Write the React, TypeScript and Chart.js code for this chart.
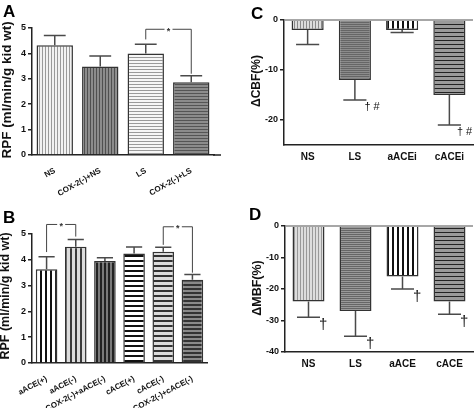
import React, { useEffect, useRef } from "react";
import { Chart, registerables } from "chart.js";
Chart.register(...registerables);

const FONT = "'Liberation Sans', Arial, Helvetica, sans-serif";
Chart.defaults.font.family = FONT;
Chart.defaults.color = "#111";

// ---- Panel A ----
const catsA = ["NS", "COX-2(-)+NS", "LS", "COX-2(-)+LS"];
const valsA = [4.32, 3.48, 4.0, 2.86];
const errA = [0.38, 0.42, 0.36, 0.26];
const ticksA = [0, 1, 2, 3, 4, 5];

// ---- Panel B ----
const catsB = ["aACE(+)", "aACE(-)", "COX-2(-)+aACE(-)", "cACE(+)", "cACE(-)", "COX-2(-)+cACE(-)"];
const valsB = [3.63, 4.51, 3.95, 4.24, 4.31, 3.23];
const errB = [0.49, 0.28, 0.13, 0.26, 0.18, 0.2];
const ticksB = [0, 1, 2, 3, 4, 5];

// ---- Panel C ----
const catsC = ["NS", "LS", "aACEi", "cACEi"];
const valsC = [-2, -12, -2, -15];
const errC = [2.9, 4, 0.5, 6];
const ticksC = [0, -10, -20];

// ---- Panel D ----
const catsD = ["NS", "LS", "aACE", "cACE"];
const valsD = [-24, -27, -16, -24];
const errD = [5, 8, 4, 4];
const ticksD = [0, -10, -20, -30, -40];

type Pat = { bg: string; fg: string; dir: "v" | "h"; period: number; lw: number };
type Bracket = { from: number; to: number; y: number; fromY: number; toY: number; label: string };
type Mark = { i: number; text: string; dx: number; dy: number; size: number };

type Cfg = {
  labels: string[]; values: number[]; errors: number[]; dir: number; pats: Pat[];
  yMin: number; yMax: number; ticks: number[];
  yTitle: string; titleSize: number; tx: number; ty: number;
  letter: string; lx: number; ly: number;
  left: number; top: number; w: number; h: number;
  area: { l: number; t: number; r: number; b: number };
  axisExt: number;
  barPct: number; capFrac: number; rot: number; xFont: number; xPad: number;
  brackets: Bracket[]; marks: Mark[]; zeroLine: boolean;
};

const cfgA: Cfg = {
  labels: catsA, values: valsA, errors: errA, dir: 1,
  pats: [
    { bg: "#f2f2f2", fg: "#9a9a9a", dir: "v", period: 3, lw: 1 },
    { bg: "#8c8c8c", fg: "#505050", dir: "v", period: 3, lw: 1 },
    { bg: "#f6f6f6", fg: "#9a9a9a", dir: "h", period: 3, lw: 1 },
    { bg: "#8c8c8c", fg: "#555555", dir: "h", period: 3, lw: 1 },
  ],
  yMin: 0, yMax: 5, ticks: ticksA,
  yTitle: "RPF (ml/min/g kid wt)", titleSize: 13.5, tx: 7, ty: 90,
  letter: "A", lx: 3, ly: 17,
  left: 0, top: 0, w: 237, h: 200,
  area: { l: 32, t: 28, r: 214, b: 155 }, axisExt: 7,
  barPct: 0.8, capFrac: 0.6, rot: 30, xFont: 8, xPad: 3,
  brackets: [{ from: 2, to: 3, y: 4.95, fromY: 4.55, toY: 3.2, label: "*" }],
  marks: [], zeroLine: false,
};

const cfgB: Cfg = {
  labels: catsB, values: valsB, errors: errB, dir: 1,
  pats: [
    { bg: "#ffffff", fg: "#111111", dir: "v", period: 5, lw: 2 },
    { bg: "#dcdcdc", fg: "#3a3a3a", dir: "v", period: 5, lw: 2 },
    { bg: "#7a7a7a", fg: "#222222", dir: "v", period: 4, lw: 2 },
    { bg: "#ffffff", fg: "#111111", dir: "h", period: 5, lw: 2 },
    { bg: "#dcdcdc", fg: "#333333", dir: "h", period: 5, lw: 2 },
    { bg: "#8a8a8a", fg: "#333333", dir: "h", period: 4, lw: 2 },
  ],
  yMin: 0, yMax: 5, ticks: ticksB,
  yTitle: "RPF (ml/min/g kid wt)", titleSize: 12.5, tx: 6, ty: 96,
  letter: "B", lx: 3, ly: 23,
  left: 0, top: 200, w: 237, h: 208,
  area: { l: 32, t: 34, r: 207, b: 163 }, axisExt: 0,
  barPct: 0.74, capFrac: 0.75, rot: 28, xFont: 8, xPad: 3,
  brackets: [
    { from: 0, to: 1, y: 5.37, fromY: 4.3, toY: 4.9, label: "*" },
    { from: 4, to: 5, y: 5.28, fromY: 4.58, toY: 3.5, label: "*" },
  ],
  marks: [], zeroLine: false,
};

const cfgC: Cfg = {
  labels: catsC, values: valsC, errors: errC, dir: -1,
  pats: [
    { bg: "#dddddd", fg: "#8a8a8a", dir: "v", period: 3, lw: 1 },
    { bg: "#8c8c8c", fg: "#666666", dir: "h", period: 2, lw: 1 },
    { bg: "#ffffff", fg: "#111111", dir: "v", period: 5, lw: 2 },
    { bg: "#9a9a9a", fg: "#222222", dir: "h", period: 4, lw: 1 },
  ],
  yMin: -25, yMax: 0, ticks: ticksC,
  yTitle: "\u0394CBF(%)", titleSize: 12, tx: 20, ty: 81,
  letter: "C", lx: 14, ly: 19,
  left: 237, top: 0, w: 238, h: 200,
  area: { l: 47, t: 20, r: 236, b: 145 }, axisExt: 0,
  barPct: 0.68, capFrac: 0.72, rot: 0, xFont: 10, xPad: -2,
  brackets: [],
  marks: [
    { i: 1, text: "\u2020 #", dx: -2, dy: 1, size: 11 },
    { i: 3, text: "\u2020 #", dx: -4, dy: 1, size: 11 },
  ],
  zeroLine: true,
};

const cfgD: Cfg = {
  labels: catsD, values: valsD, errors: errD, dir: -1,
  pats: [
    { bg: "#dddddd", fg: "#999999", dir: "v", period: 3, lw: 1 },
    { bg: "#999999", fg: "#666666", dir: "h", period: 2, lw: 1 },
    { bg: "#ffffff", fg: "#111111", dir: "v", period: 5, lw: 2 },
    { bg: "#9a9a9a", fg: "#222222", dir: "h", period: 4, lw: 1 },
  ],
  yMin: -40, yMax: 0, ticks: ticksD,
  yTitle: "\u0394MBF(%)", titleSize: 12.5, tx: 21, ty: 88,
  letter: "D", lx: 12, ly: 20,
  left: 237, top: 200, w: 238, h: 208,
  area: { l: 48, t: 26, r: 236, b: 152 }, axisExt: 0,
  barPct: 0.68, capFrac: 0.72, rot: 0, xFont: 10, xPad: -2,
  brackets: [],
  marks: [
    { i: 0, text: "\u2020", dx: -1, dy: 0, size: 15 },
    { i: 1, text: "\u2020", dx: -1, dy: 0, size: 15 },
    { i: 2, text: "\u2020", dx: -1, dy: 0, size: 15 },
    { i: 3, text: "\u2020", dx: -1, dy: 0, size: 15 },
  ],
  zeroLine: true,
};

const CFGS = [cfgA, cfgB, cfgC, cfgD];

function makePattern(ctx: CanvasRenderingContext2D, p: Pat) {
  const c = document.createElement("canvas");
  c.width = p.period;
  c.height = p.period;
  const g = c.getContext("2d")!;
  g.fillStyle = p.bg;
  g.fillRect(0, 0, p.period, p.period);
  g.fillStyle = p.fg;
  if (p.dir === "v") g.fillRect(0, 0, p.lw, p.period);
  else g.fillRect(0, 0, p.period, p.lw);
  return ctx.createPattern(c, "repeat")!;
}

const extrasPlugin = {
  id: "extras",
  afterDatasetsDraw(chart: any) {
    const cfg: Cfg = chart.$cfg;
    if (!cfg) return;
    const ctx: CanvasRenderingContext2D = chart.ctx;
    const meta = chart.getDatasetMeta(0);
    const ys = chart.scales.y;
    const ca = chart.chartArea;
    ctx.save();
    if (cfg.zeroLine) {
      const y0 = ys.getPixelForValue(0);
      ctx.strokeStyle = "#8a8a8a";
      ctx.lineWidth = 1.5;
      ctx.beginPath();
      ctx.moveTo(ca.left, y0);
      ctx.lineTo(ca.right, y0);
      ctx.stroke();
    }
    if (cfg.axisExt > 0) {
      ctx.strokeStyle = "#222";
      ctx.lineWidth = 1.5;
      ctx.beginPath();
      ctx.moveTo(ca.right - 1, ca.bottom);
      ctx.lineTo(ca.right + cfg.axisExt, ca.bottom);
      ctx.stroke();
    }
    // error bars
    cfg.errors.forEach((e, i) => {
      const bar = meta.data[i];
      const end = cfg.values[i] + cfg.dir * e;
      const yEnd = ys.getPixelForValue(end);
      const half = (bar.width * cfg.capFrac) / 2;
      ctx.strokeStyle = "#4a4a4a";
      ctx.lineWidth = 1.5;
      ctx.beginPath();
      ctx.moveTo(bar.x, bar.y);
      ctx.lineTo(bar.x, yEnd);
      ctx.moveTo(bar.x - half, yEnd);
      ctx.lineTo(bar.x + half, yEnd);
      ctx.stroke();
    });
    // brackets
    cfg.brackets.forEach((b) => {
      const x1 = meta.data[b.from].x;
      const x2 = meta.data[b.to].x;
      const y = ys.getPixelForValue(b.y);
      ctx.strokeStyle = "#444";
      ctx.lineWidth = 1;
      ctx.beginPath();
      ctx.moveTo(x1, ys.getPixelForValue(b.fromY));
      ctx.lineTo(x1, y);
      ctx.lineTo(x2, y);
      ctx.lineTo(x2, ys.getPixelForValue(b.toY));
      ctx.stroke();
      const xm = (x1 + x2) / 2;
      ctx.fillStyle = "#fff";
      ctx.fillRect(xm - 4, y - 3, 8, 6);
      ctx.fillStyle = "#333";
      ctx.font = `bold 9px ${FONT}`;
      ctx.textAlign = "center";
      ctx.textBaseline = "middle";
      ctx.fillText(b.label, xm, y + 2);
    });
    // marks
    cfg.marks.forEach((m) => {
      const bar = meta.data[m.i];
      const end = cfg.values[m.i] + cfg.dir * cfg.errors[m.i];
      const yEnd = ys.getPixelForValue(end);
      const half = (bar.width * cfg.capFrac) / 2;
      ctx.fillStyle = "#111";
      ctx.font = `${m.size}px ${FONT}`;
      ctx.textAlign = "left";
      ctx.textBaseline = "top";
      ctx.fillText(m.text, bar.x + half + m.dx, yEnd + m.dy);
    });
    ctx.restore();
  },
  afterDraw(chart: any) {
    const cfg: Cfg = chart.$cfg;
    if (!cfg) return;
    const ctx: CanvasRenderingContext2D = chart.ctx;
    ctx.save();
    ctx.fillStyle = "#000";
    ctx.font = `bold 17px ${FONT}`;
    ctx.textAlign = "left";
    ctx.textBaseline = "alphabetic";
    ctx.fillText(cfg.letter, cfg.lx, cfg.ly);
    // y-axis title
    ctx.translate(cfg.tx, cfg.ty);
    ctx.rotate(-Math.PI / 2);
    ctx.fillStyle = "#111";
    ctx.font = `bold ${cfg.titleSize}px ${FONT}`;
    ctx.textAlign = "center";
    ctx.textBaseline = "middle";
    ctx.fillText(cfg.yTitle, 0, 0);
    ctx.restore();
  },
};

function buildChart(canvas: HTMLCanvasElement, cfg: Cfg) {
  const ctx = canvas.getContext("2d")!;
  const bgs = cfg.pats.map((p) => makePattern(ctx, p));
  const chart: any = new Chart(canvas, {
    type: "bar",
    data: {
      labels: cfg.labels,
      datasets: [
        {
          data: cfg.values,
          backgroundColor: bgs as any,
          borderColor: "#333",
          borderWidth: 1.5,
          barPercentage: cfg.barPct,
          categoryPercentage: 1,
        },
      ],
    },
    options: {
      responsive: false,
      animation: false,
      devicePixelRatio: 1,
      layout: { padding: { left: 0, top: cfg.area.t, right: cfg.w - cfg.area.r, bottom: 0 } },
      plugins: { legend: { display: false }, tooltip: { enabled: false } },
      scales: {
        x: {
          grid: { display: false },
          border: { display: true, color: "#222", width: 1.5 },
          ticks: {
            font: { size: cfg.xFont, weight: "bold" },
            color: "#111",
            minRotation: cfg.rot,
            maxRotation: cfg.rot,
            autoSkip: false,
            padding: cfg.xPad,
          },
          afterFit: (s: any) => {
            s.height = cfg.h - cfg.area.b;
          },
        },
        y: {
          min: cfg.yMin,
          max: cfg.yMax,
          grid: { drawOnChartArea: false, drawTicks: true, tickLength: 4, color: "#222", lineWidth: 1.5 },
          border: { display: true, color: "#222", width: 1.5 },
          ticks: { font: { size: 9, weight: "bold" }, color: "#111", padding: 2 },
          afterBuildTicks: (s: any) => {
            s.ticks = cfg.ticks.map((v) => ({ value: v }));
          },
          afterFit: (s: any) => {
            s.width = cfg.area.l;
          },
          title: { display: false },
        },
      },
    } as any,
    plugins: [extrasPlugin as any],
  });
  chart.$cfg = cfg;
  chart.update();
  return chart;
}

export default function App() {
  const refs = [useRef<HTMLCanvasElement>(null), useRef<HTMLCanvasElement>(null), useRef<HTMLCanvasElement>(null), useRef<HTMLCanvasElement>(null)];
  useEffect(() => {
    const charts = CFGS.map((cfg, i) => buildChart(refs[i].current!, cfg));
    return () => charts.forEach((c) => c.destroy());
  }, []);
  return (
    <div style={{ position: "absolute", left: 0, top: 0, width: 475, height: 408, background: "#fff", overflow: "hidden" }}>
      {CFGS.map((cfg, i) => (
        <canvas
          key={i}
          ref={refs[i]}
          width={cfg.w}
          height={cfg.h}
          style={{ position: "absolute", left: cfg.left, top: cfg.top, width: cfg.w, height: cfg.h }}
        />
      ))}
    </div>
  );
}
